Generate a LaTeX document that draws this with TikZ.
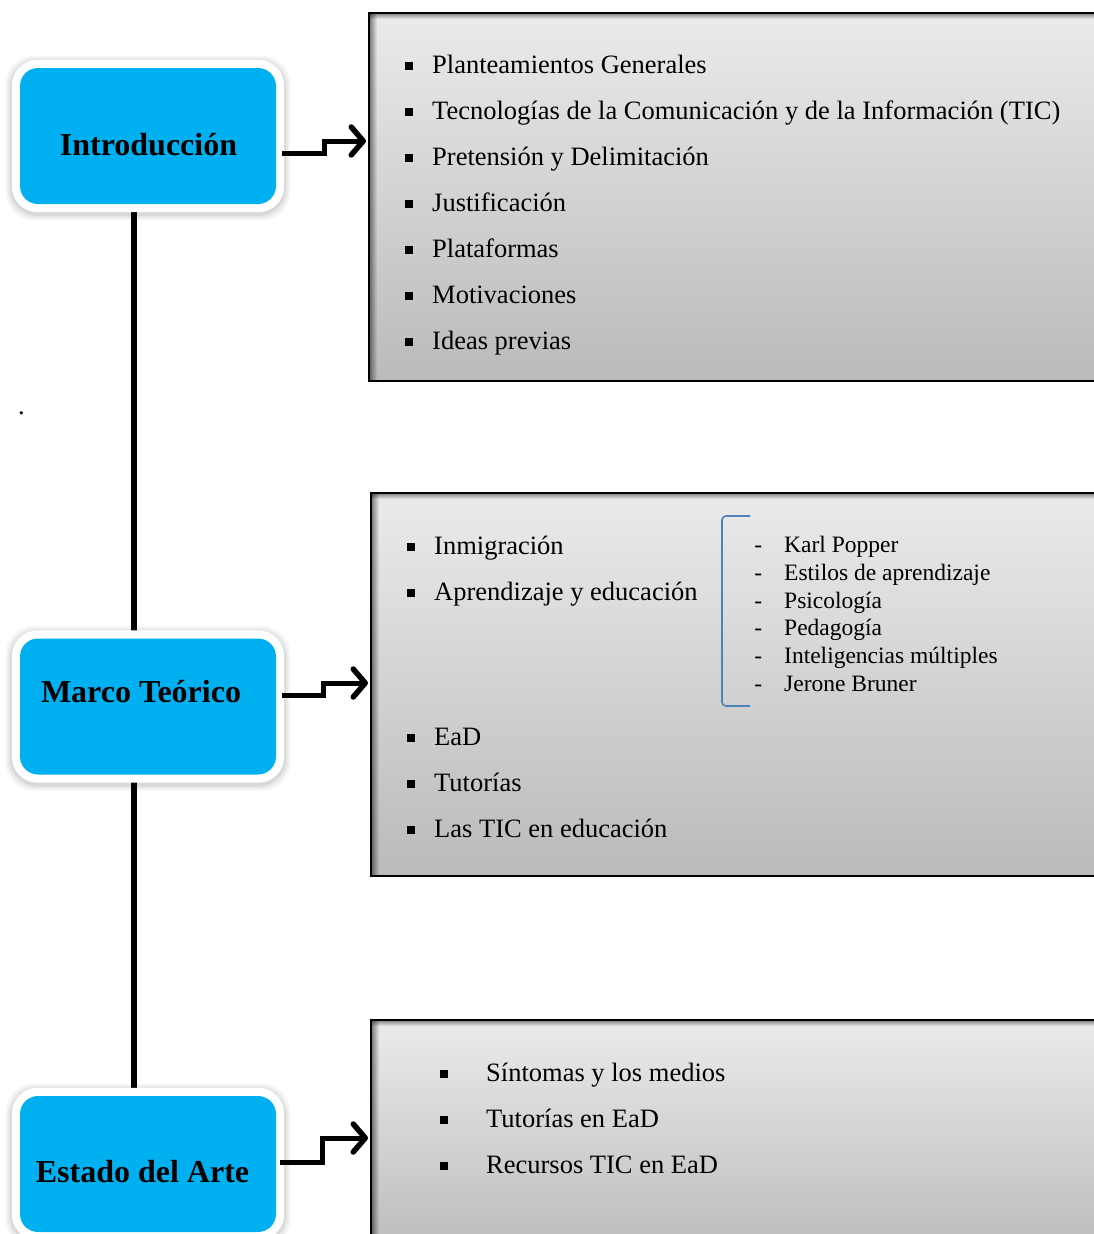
\documentclass[tikz,border=0pt]{standalone}
\usepackage{fontspec}
\setmainfont{Liberation Serif}
\usetikzlibrary{arrows.meta,fadings,calc}

\definecolor{tileblue}{HTML}{00B0F0}
\definecolor{bracketblue}{HTML}{4F81BD}

% fadings for the inner shadow of the panels
\tikzfading[name=edgefadeh, left color=transparent!0, right color=transparent!100]
\tikzfading[name=edgefadev, top color=transparent!0, bottom color=transparent!100]

% list markers placed to the left of the item text
\newcommand\sqmark{\llap{\rule[3.5pt]{8pt}{8pt}\hspace{19pt}}}
\newcommand\sqmarkwide{\llap{\rule[3.5pt]{8pt}{8pt}\hspace{38pt}}}
\newcommand\dashmark{\llap{-\hspace{22pt}}}

\pgfdeclarelayer{bg}
\pgfsetlayers{bg,main}

\begin{document}
\begin{tikzpicture}[x=1pt,y=-1pt,
  tile/.style={fill=tileblue, rounded corners=18pt, minimum width=256pt,
    minimum height=136pt, inner sep=0pt},
  title/.style={font=\fontsize{32}{36}\selectfont\bfseries, anchor=base, inner sep=0pt},
  item/.style={font=\fontsize{26.5}{30}\selectfont, anchor=base west, inner sep=0pt},
  subitem/.style={font=\fontsize{23.5}{27}\selectfont, anchor=base west, inner sep=0pt},
  panel/.style={draw=black, line width=2pt, top color=black!8, bottom color=black!27,
    anchor=north west, inner sep=0pt, minimum width=740pt},
  spineline/.style={line width=5.5pt, black},
  link/.style={line width=5pt, black,
    -{Straight Barb[length=12pt,width=28pt,line width=0pt 1.1,round]}},
  glow/.style={black, rounded corners=28pt},
]
\useasboundingbox (0,0) rectangle (1094,1234);
\clip (0,0) rectangle (1094,1234);

% content panels
\node[panel, minimum height=368pt] (b1) at (368,12) {};
\node[panel, minimum height=383pt] (b2) at (370,492) {};
\node[panel, minimum height=240pt] (b3) at (370,1019) {};

% inner shadow along the top and left edges of each panel
\foreach \p in {b1,b2,b3}{
  \fill[black, opacity=0.5, path fading=edgefadeh]
    ($(\p.north west)+(1,1)$) rectangle ($(\p.south west)+(9,-1)$);
  \fill[black, opacity=0.45, path fading=edgefadev]
    ($(\p.north west)+(1,1)$) rectangle ($(\p.north east)+(-1,7)$);
}

% section tiles
\node[tile] (intro) at (148,136) {};
\node[tile] (marco) at (148,706.5) {};
\node[tile] (estado) at (148,1164) {};

\node[title] (tintro) at (148.5,155) {Introducción};
\node[title] (tmarco) at (141,702) {Marco Teórico};
\node[title] (testado) at (142.5,1182) {Estado del Arte};

% white halo with a soft shadow behind every tile, and the spine joining them
\coordinate (spine) at (134,0);
\begin{pgfonlayer}{bg}
  \draw[spineline] (intro.south -| spine) -- (marco.north -| spine);
  \draw[spineline] (marco.south -| spine) -- (estado.north -| spine);
  \foreach \t in {intro,marco,estado}{
    \foreach \k/\op in {14/0.04, 12/0.05, 10/0.07}{
      \fill[glow, opacity=\op]
        ($(\t.north west)+(-\k,-\k+2)$) rectangle ($(\t.south east)+(\k,\k+2)$);
    }
    \fill[white, rounded corners=26pt]
      ($(\t.north west)+(-8,-8)$) rectangle ($(\t.south east)+(8,8)$);
  }
\end{pgfonlayer}

% stepped arrows from tiles to panels
\coordinate (s1) at (324,141);
\coordinate (s2) at (323,683);
\coordinate (s3) at (322,1138);
\draw[link] ([xshift=6pt,yshift=-17pt]intro.east) -| (s1) -- ([xshift=-2pt]b1.west |- s1);
\draw[link] ([xshift=6pt,yshift=11.5pt]marco.east) -| (s2) -- ([xshift=-2pt]b2.west |- s2);
\draw[link] ([xshift=4pt,yshift=2pt]estado.east) -| (s3) -- ([xshift=-2pt]b3.west |- s3);

% Introducción
\node[item] (i1) at (432,73) {\sqmark Planteamientos Generales};
\node[item] (i2) at (432,119) {\sqmark Tecnologías de la Comunicación y de la Información (TIC)};
\node[item] (i3) at (432,165) {\sqmark Pretensión y Delimitación};
\node[item] (i4) at (432,211) {\sqmark Justificación};
\node[item] (i5) at (432,257) {\sqmark Plataformas};
\node[item] (i6) at (432,303) {\sqmark Motivaciones};
\node[item] (i7) at (432,349) {\sqmark Ideas previas};

% Marco Teórico
\node[item] (m1) at (434,554) {\sqmark Inmigración};
\node[item] (m2) at (434,600) {\sqmark Aprendizaje y educación};
\node[item] (m3) at (434,745) {\sqmark EaD};
\node[item] (m4) at (434,791) {\sqmark Tutorías};
\node[item] (m5) at (434,837) {\sqmark Las TIC en educación};

\draw[bracketblue, line width=1.6pt, rounded corners=4pt]
  (750,516) -- (722,516) -- (722,706) -- (750,706);
\node[subitem] (k1) at (784,552) {\dashmark Karl Popper};
\node[subitem] (k2) at (784,580) {\dashmark Estilos de aprendizaje};
\node[subitem] (k3) at (784,608) {\dashmark Psicología};
\node[subitem] (k4) at (784,635.5) {\dashmark Pedagogía};
\node[subitem] (k5) at (784,663) {\dashmark Inteligencias múltiples};
\node[subitem] (k6) at (784,691) {\dashmark Jerone Bruner};

% Estado del Arte
\node[item] (e1) at (486,1081) {\sqmarkwide Síntomas y los medios};
\node[item] (e2) at (486,1127) {\sqmarkwide Tutorías en EaD};
\node[item] (e3) at (486,1173) {\sqmarkwide Recursos TIC en EaD};

\node[item] (dot) at (18,414) {.};
\end{tikzpicture}
\end{document}
